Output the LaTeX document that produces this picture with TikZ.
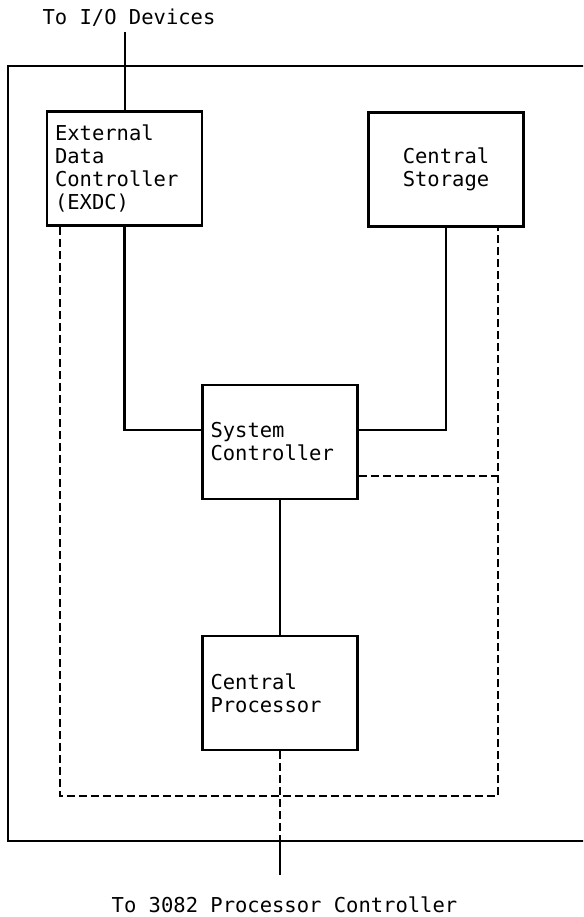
\documentclass[tikz,border=0pt]{standalone}
\usepackage{fontspec}
\setmonofont{DejaVu Sans Mono}
\usepackage{tikz}
\tikzset{every node/.append style={font=\ttfamily\fontsize{20.5}{23}\selectfont}}

\begin{document}
\begin{tikzpicture}[x=1pt, y=-1pt, line width=2.2pt,
    unitbox/.style={draw, minimum height=114pt, text width=139pt, inner xsep=8pt, align=left},
    bus/.style={dashed, dash pattern=on 8pt off 4pt}]
    \useasboundingbox (0,0) rectangle (583,917);
    \clip (0,0) rectangle (583,917);
    \draw (8,66) rectangle (610,841);

    \node[unitbox] (exdc) at (124.5,168.5) {External\\Data\\Controller\\(EXDC)};
    \node[unitbox, align=center] (stor) at (446,169.5) {Central\\Storage};
    \node[unitbox] (sysc) at (280,442) {System\\Controller};
    \node[unitbox] (cpu) at (280,693) {Central\\Processor};

    \node (iotxt) at (129,18) {To I/O Devices};
    \node (pctxt) at (284.5,905) {To 3082 Processor Controller};
    \coordinate (io) at (125,32);
    \coordinate (busL) at (60,796);
    \coordinate (busR) at (498,796);
    \coordinate (sysbus) at ([yshift=-34pt]sysc.east);
    \coordinate (pcin) at (280,841);
    \coordinate (pcend) at (280,875);

    \draw (io) -- (io |- exdc.north);
    \draw (exdc.south) |- ([yshift=12pt]sysc.west);
    \draw (stor.south) |- ([yshift=12pt]sysc.east);
    \draw (sysc.south) -- (cpu.north);
    \draw (pcin) -- (pcend);

    \draw[bus] (busL |- exdc.south) -- (busL) -- (busR) -- (busR |- stor.south);
    \draw[bus] (sysbus) -- (busR |- sysbus);
    \draw[bus] (cpu.south) -- (pcin);
\end{tikzpicture}
\end{document}
